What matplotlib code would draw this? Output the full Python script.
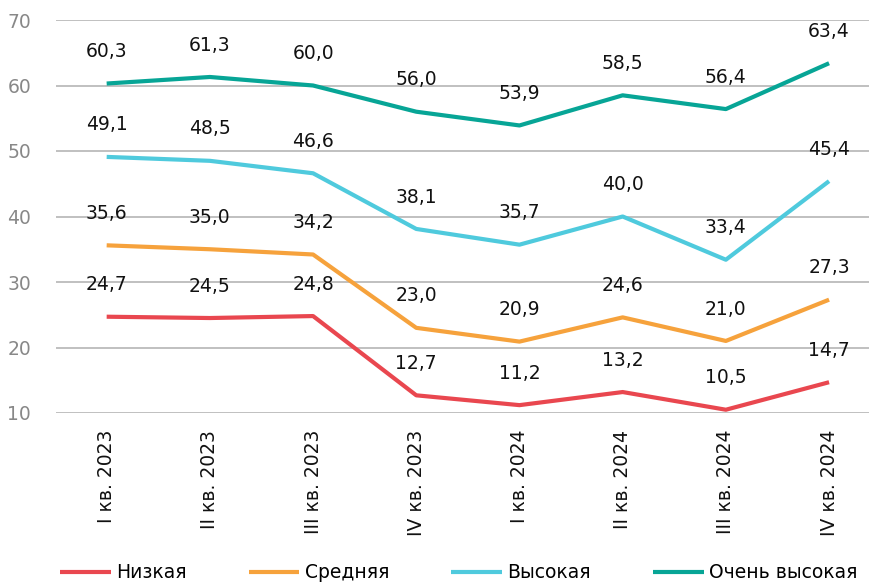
import numpy as np
import matplotlib
matplotlib.use("Agg")
import matplotlib.pyplot as plt

# данные
quarters = ["I кв. 2023", "II кв. 2023", "III кв. 2023", "IV кв. 2023",
            "I кв. 2024", "II кв. 2024", "III кв. 2024", "IV кв. 2024"]

low = [24.7, 24.5, 24.8, 12.7, 11.2, 13.2, 10.5, 14.7]
medium = [35.6, 35.0, 34.2, 23.0, 20.9, 24.6, 21.0, 27.3]
high = [49.1, 48.5, 46.6, 38.1, 35.7, 40.0, 33.4, 45.4]
very_high = [60.3, 61.3, 60.0, 56.0, 53.9, 58.5, 56.4, 63.4]

series_names = ["Низкая", "Средняя", "Высокая", "Очень высокая"]
colors = ["#E9474F", "#F6A23C", "#4FCADD", "#07A596"]

plt.rcParams["font.family"] = ["DejaVu Sans"]

fig = plt.figure(figsize=(8.69, 5.86), dpi=100)
ax = fig.add_axes([56 / 869, 1 - 413 / 586, 1 - 56 / 869, (413 - 20) / 586])

x = np.arange(len(quarters))
for vals, name, c in zip([low, medium, high, very_high], series_names, colors):
    ax.plot(x, vals, color=c, lw=3, label=name, solid_capstyle="butt", zorder=3)
    for xi, v in zip(x, vals):
        ax.annotate(f"{v:.1f}".replace(".", ","), (xi, v), xytext=(0, 23),
                    textcoords="offset points", ha="center", va="center",
                    fontsize=13.5, color="#111111")

ax.set_ylim(10, 70)
ax.set_yticks(range(10, 71, 10))
ax.set_xlim(-0.491, 7.387)
ax.set_xticks(x)
ax.set_xticklabels(quarters, rotation=90, fontsize=13.5, color="#111111")
ax.tick_params(axis="y", length=0, pad=18, labelsize=13.5, labelcolor="#888888")
ax.tick_params(axis="x", length=0, pad=12)
ax.grid(axis="y", color="#b5b5b5", lw=1.2)
ax.set_axisbelow(True)
for s in ax.spines.values():
    s.set_visible(False)

fig.legend(loc="center", bbox_to_anchor=(0.528, 1 - 573 / 586), ncol=4,
           frameon=False, fontsize=13.5, handlelength=2.7, handletextpad=0.3,
           columnspacing=3.3)

plt.savefig("out.png", dpi=100)
